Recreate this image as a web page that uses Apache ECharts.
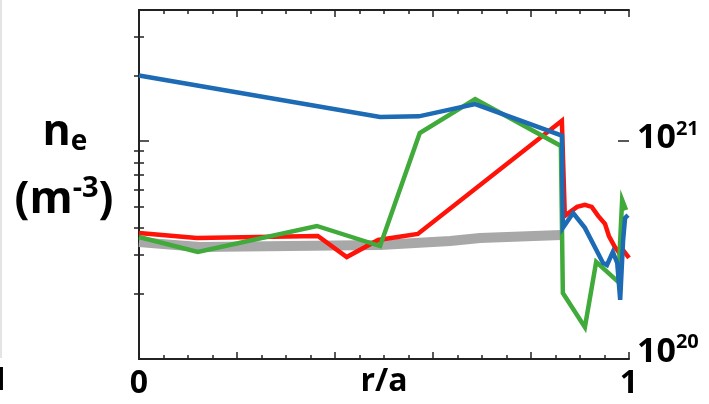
<!DOCTYPE html>
<html><head><meta charset="utf-8">
<script src="https://cdn.jsdelivr.net/npm/echarts@6/dist/echarts.min.js"></script>
<style>html,body{margin:0;padding:0;background:#fff}#c{width:709px;height:404px}</style>
</head><body><div id="c"></div>
<script>
// ---- data (r/a, n_e in m^-3) ----
const blueR  = [0, 0.492, 0.571, 0.686, 0.863, 0.865, 0.886, 0.910, 0.947, 0.955, 0.967, 0.976, 0.982, 0.988, 0.992, 0.998];
const blueNe = [2.0e21, 1.29e21, 1.30e21, 1.48e21, 1.06e21, 4.0e20, 4.68e20, 4.0e20, 2.76e20, 2.70e20, 3.10e20, 2.76e20, 1.87e20, 3.52e20, 4.44e20, 4.58e20];

const redR  = [0, 0.118, 0.365, 0.424, 0.488, 0.569, 0.863, 0.869, 0.894, 0.910, 0.924, 0.937, 0.951, 0.959, 0.971, 0.982, 0.988, 1.0];
const redNe = [3.79e20, 3.59e20, 3.67e20, 2.94e20, 3.52e20, 3.75e20, 1.24e21, 4.54e20, 4.99e20, 5.10e20, 4.99e20, 4.54e20, 4.17e20, 3.67e20, 3.27e20, 3.03e20, 3.16e20, 2.91e20];

const greenR  = [0, 0.120, 0.363, 0.492, 0.573, 0.686, 0.861, 0.865, 0.910, 0.933, 0.978, 0.986, 0.994];
const greenNe = [3.63e20, 3.10e20, 4.08e20, 3.30e20, 1.09e21, 1.56e21, 9.51e20, 2.01e20, 1.40e20, 2.79e20, 2.26e20, 5.37e20, 4.83e20];

const grayR  = [0, 0.124, 0.308, 0.492, 0.635, 0.696, 0.861];
const grayNe = [3.44e20, 3.27e20, 3.30e20, 3.34e20, 3.48e20, 3.59e20, 3.71e20];

// ---- ticks / labels ----
const xLabelVals = [0, 1];
const yMinorTicks = [2e20, 3e20, 4e20, 5e20, 6e20, 7e20, 8e20, 9e20, 2e21, 3e21];
const yMajorTicks = [1e21];
const yLabelVals = [1e20, 1e21];
const yLabelBase = '10';
const yLabelExp = ['20', '21'];

const FONT = 'Open Sans';
const AX = '#222';
const zip = (a, b) => a.map((v, i) => [v, b[i]]);

const chart = echarts.init(document.getElementById('c'), null, {renderer: 'canvas'});

const baseX = (pos) => ({
  type: 'value', position: pos, min: 0, max: 1, interval: 0.2,
  axisLine: {show: true, onZero: false, lineStyle: {color: AX, width: 2}},
  axisTick: {show: true, inside: true, length: 7, lineStyle: {color: AX, width: 1.5}},
  minorTick: {show: true, splitNumber: 4, length: 4, lineStyle: {color: AX, width: 1.5}},
  splitLine: {show: false}, minorSplitLine: {show: false},
  axisLabel: {show: false}
});
const baseY = (pos, ticks, len, line) => ({
  type: 'log', logBase: 10, position: pos, min: 1e20, max: 4e21,
  axisLine: {show: line, lineStyle: {color: AX, width: 2}},
  axisTick: {show: true, inside: true, length: len, customValues: ticks, lineStyle: {color: AX, width: 1.5}},
  splitLine: {show: false},
  axisLabel: {show: false}
});

const xBottom = baseX('bottom');
xBottom.axisLabel = {
  show: true, customValues: xLabelVals, margin: 9,
  formatter: v => String(v),
  fontFamily: FONT, fontWeight: 'bold', fontSize: 32, color: '#000'
};
xBottom.name = 'r/a';
xBottom.nameLocation = 'middle';
xBottom.nameGap = 7;
xBottom.nameMoveOverlap = false;
xBottom.nameTextStyle = {fontFamily: FONT, fontWeight: 'bold', fontSize: 32, color: '#000', verticalAlign: 'top'};

const yRight = baseY('right', yMinorTicks, 5, true);
yRight.axisLabel = {
  show: true, customValues: yLabelVals, margin: 8,
  formatter: v => {
    const i = yLabelVals.indexOf(v);
    const k = i < 0 ? (v < 5e20 ? 0 : 1) : i;
    return '{b' + k + '|' + yLabelBase + '}{s' + k + '|' + yLabelExp[k] + '}';
  },
  rich: {
    b0: {fontFamily: FONT, fontWeight: 'bold', fontSize: 34, color: '#000', padding: [0, 0, 14, 0]},
    s0: {fontFamily: FONT, fontWeight: 'bold', fontSize: 20, color: '#000', padding: [0, 0, 34, 0]},
    b1: {fontFamily: FONT, fontWeight: 'bold', fontSize: 34, color: '#000', padding: [0, 0, 6, 0]},
    s1: {fontFamily: FONT, fontWeight: 'bold', fontSize: 20, color: '#000', padding: [0, 0, 24, 0]}
  }
};

const lineSeries = (name, xs, ys, color, width, z) => ({
  name, type: 'line', xAxisIndex: 0, yAxisIndex: 0,
  data: zip(xs, ys), showSymbol: false, symbol: 'none', z,
  lineStyle: {color, width, join: 'miter', cap: 'butt'},
  emphasis: {disabled: true}, animation: false
});

chart.setOption({
  animation: false,
  backgroundColor: '#fff',
  grid: {left: 139, right: 80, top: 10, bottom: 45, containLabel: false, outerBoundsMode: 'none'},
  xAxis: [xBottom, baseX('top')],
  yAxis: [
    baseY('left', yMinorTicks, 5, true),
    yRight,
    baseY('left', yMajorTicks, 10, false),
    baseY('right', yMajorTicks, 11, false)
  ],
  series: [
    lineSeries('gray', grayR, grayNe, '#a8a8a8', 10, 1),
    lineSeries('red', redR, redNe, '#ff1208', 4.5, 2),
    lineSeries('green', greenR, greenNe, '#40aa3a', 4.5, 3),
    lineSeries('blue', blueR, blueNe, '#1d6ab5', 4.5, 4)
  ],
  graphic: [
    {type: 'text', x: 65, y: 133, style: {
      text: '{n|n}{e|e}', align: 'center', verticalAlign: 'middle',
      rich: {
        n: {fontFamily: FONT, fontWeight: 'bold', fontSize: 43, fill: '#000'},
        e: {fontFamily: FONT, fontWeight: 'bold', fontSize: 28, fill: '#000', padding: [19, 0, 0, 0]}
      }}},
    {type: 'text', x: 64, y: 200, style: {
      text: '{m|(m}{s|-3}{m|)}', align: 'center', verticalAlign: 'middle',
      rich: {
        m: {fontFamily: FONT, fontWeight: 'bold', fontSize: 44, fill: '#000'},
        s: {fontFamily: FONT, fontWeight: 'bold', fontSize: 29, fill: '#000', padding: [0, 0, 22, 0]}
      }}},
    {type: 'line', shape: {x1: 1, y1: 0, x2: 1, y2: 358}, style: {stroke: '#c8c8c8', lineWidth: 1}},
    {type: 'text', x: 8, y: 381, style: {text: '1', align: 'right', verticalAlign: 'middle',
      fontFamily: FONT, fontWeight: 'bold', fontSize: 32, fill: '#000'}}
  ]
});
</script>
</body></html>
